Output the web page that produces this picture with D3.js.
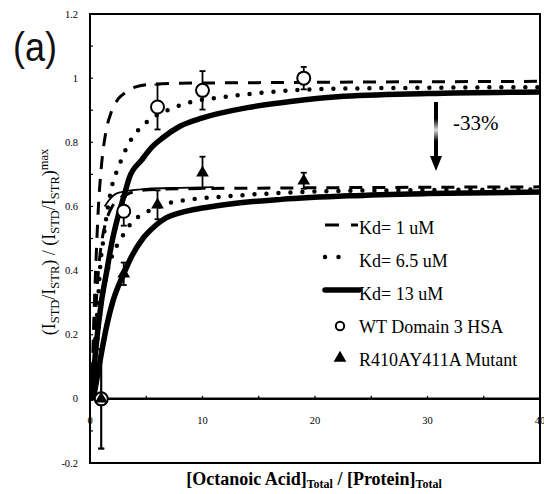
<!DOCTYPE html>
<meta charset="utf-8">
<script src="https://d3js.org/d3.v7.min.js"></script>
<style>
  body { margin: 0; background: #fff; }
  text { font-family: "Liberation Serif", "DejaVu Serif", serif; fill: #000; }
</style>
<div id="chart"></div>
<script>

// tick values
var xTicks = [0, 10, 20, 30, 40];
var xMinor = [5, 10, 15, 20, 25, 30, 35];
var yTicks = [-0.2, 0, 0.2, 0.4, 0.6, 0.8, 1, 1.2];
var yMinor = [-0.1, 0.1, 0.3, 0.5, 0.7, 0.9, 1.1];

// fitted curves, [ratio, signal]
var wtKd1 = [[0.15,0],[0.3,0.2],[0.5,0.4],[0.75,0.6],[1.0,0.72],[1.4,0.83],[1.9,0.895],[2.5,0.935],[3.2,0.956],[4,0.972],[5.2,0.98],[8,0.984],[15,0.986],[25,0.988],[40,0.99]];
var wtKd65 = [[0.15,0],[0.4,0.15],[0.7,0.3],[0.9,0.41],[1.2,0.5],[1.6,0.6],[2.0,0.67],[2.5,0.72],[3.3,0.786],[4.4,0.843],[5.3,0.87],[7.3,0.906],[9.3,0.928],[11.6,0.94],[14.8,0.953],[18,0.962],[22,0.967],[30,0.97],[40,0.972]];
var wtKd13 = [[0.15,0],[0.5,0.15],[1.0,0.3],[1.5,0.4],[1.9,0.48],[2.5,0.57],[3.0,0.63],[3.5,0.69],[4.6,0.745],[5.5,0.785],[6.5,0.815],[8,0.85],[10,0.876],[14,0.908],[18,0.928],[22,0.942],[30,0.952],[40,0.957]];
var mutKd1 = [[0.15,0],[0.3,0.13],[0.5,0.27],[0.75,0.4],[1.0,0.48],[1.4,0.55],[1.9,0.595],[2.5,0.622],[3.2,0.636],[4,0.647],[5.2,0.652],[8,0.655],[15,0.657],[25,0.659],[40,0.661]];
var mutKd65 = [[0.15,0],[0.4,0.1],[0.7,0.2],[1.0,0.29],[1.5,0.39],[2,0.45],[2.6,0.49],[3.1,0.52],[3.8,0.553],[4.9,0.58],[6.2,0.6],[7,0.61],[9.3,0.623],[11.6,0.63],[14.8,0.638],[18,0.644],[22,0.648],[30,0.651],[40,0.653]];
var mutKd13 = [[0.3,0],[0.7,0.08],[1,0.14],[1.5,0.23],[2,0.3],[2.5,0.35],[3,0.39],[3.5,0.43],[4.7,0.5],[5.5,0.53],[6.8,0.565],[8,0.58],[10,0.595],[13,0.61],[17,0.622],[23,0.633],[30,0.64],[40,0.645]];
var thinFit = [[1.3,0.6],[1.7,0.62],[2.1,0.635],[2.8,0.645],[3.6,0.65],[5,0.655],[8,0.658],[11,0.66]];

// measured points
var ratio = [1, 3, 6, 10, 19];
var wtVal = [0, 0.585, 0.91, 0.962, 1.0];
var wtErr = [0.155, 0.045, 0.07, 0.06, 0.035];
var mutVal = [0, 0.39, 0.605, 0.705, 0.68];
var mutErr = [0.155, 0.035, 0.045, 0.05, 0.025];

var W = 544, H = 494;
var svg = d3.select("#chart").append("svg")
    .attr("width", W)
    .attr("height", H);

var x = d3.scaleLinear().domain([0, 40]).range([90, 540]);
var y = d3.scaleLinear().domain([-0.2, 1.2]).range([463, 14]);

svg.append("defs").append("clipPath").attr("id", "plot")
  .append("rect")
    .attr("x", 90).attr("y", 14)
    .attr("width", 450).attr("height", 449);

// frame
svg.append("rect")
    .attr("x", 90).attr("y", 14)
    .attr("width", 450).attr("height", 449)
    .attr("fill", "none")
    .attr("stroke", "#000")
    .attr("stroke-width", 2);

// y ticks on the left edge
svg.selectAll(".ytk").data(yTicks.concat(yMinor)).enter().append("line")
    .attr("x1", 90).attr("x2", 93)
    .attr("y1", function(d) { return y(d); })
    .attr("y2", function(d) { return y(d); })
    .attr("stroke", "#000").attr("stroke-width", 1.2);

svg.selectAll(".ylab").data(yTicks).enter().append("text")
    .attr("x", 78)
    .attr("y", function(d) { return y(d) + 3.5; })
    .attr("text-anchor", "end")
    .style("font-size", "10.5px")
    .text(function(d) { return d; });

// zero line acts as the x axis
svg.append("line")
    .attr("x1", 90).attr("x2", 540)
    .attr("y1", y(0)).attr("y2", y(0))
    .attr("stroke", "#000").attr("stroke-width", 2.5);

svg.selectAll(".xtk").data(xMinor).enter().append("line")
    .attr("x1", function(d) { return x(d); })
    .attr("x2", function(d) { return x(d); })
    .attr("y1", y(0) - 3).attr("y2", y(0))
    .attr("stroke", "#000").attr("stroke-width", 1.2);

svg.selectAll(".xlab").data(xTicks).enter().append("text")
    .attr("x", function(d) { return x(d); })
    .attr("y", y(0) + 25)
    .attr("text-anchor", "middle")
    .style("font-size", "10.5px")
    .text(function(d) { return d; });

// curves
var line = d3.line()
    .x(function(d) { return x(d[0]); })
    .y(function(d) { return y(d[1]); })
    .curve(d3.curveMonotoneX);

var curves = svg.append("g").attr("clip-path", "url(#plot)");

function drawCurve(pts, kind) {
  var p = curves.append("path")
      .attr("d", line(pts))
      .attr("fill", "none")
      .attr("stroke", "#000");
  if (kind == "dash") p.attr("stroke-width", 3).attr("stroke-dasharray", "13,10");
  if (kind == "dot") p.attr("stroke-width", 4.5).attr("stroke-linecap", "round").attr("stroke-dasharray", "0,12");
  if (kind == "solid") p.attr("stroke-width", 5.5);
  if (kind == "thin") p.attr("stroke-width", 1.8);
}

drawCurve(wtKd13, "solid");
drawCurve(mutKd13, "solid");
drawCurve(wtKd65, "dot");
drawCurve(mutKd65, "dot");
drawCurve(wtKd1, "dash");
drawCurve(mutKd1, "dash");
drawCurve(thinFit, "thin");

// error bars
function errBars(vals, errs) {
  var g = svg.append("g").attr("stroke", "#000").attr("stroke-width", 1.8);
  ratio.forEach(function(r, i) {
    var cx = x(r);
    g.append("line").attr("x1", cx).attr("x2", cx)
      .attr("y1", y(vals[i] - errs[i])).attr("y2", y(vals[i] + errs[i]));
    [vals[i] - errs[i], vals[i] + errs[i]].forEach(function(v) {
      g.append("line").attr("x1", cx - 3).attr("x2", cx + 3)
        .attr("y1", y(v)).attr("y2", y(v));
    });
  });
}
errBars(wtVal, wtErr);
errBars(mutVal, mutErr);

// WT open circles
svg.selectAll(".wt").data(ratio).enter().append("circle")
    .attr("cx", function(d) { return x(d); })
    .attr("cy", function(d, i) { return y(wtVal[i]); })
    .attr("r", 6.5)
    .attr("fill", "#fff")
    .attr("stroke", "#000")
    .attr("stroke-width", 2);

// mutant triangles
var tri = d3.symbol().type(d3.symbolTriangle).size(70);
svg.selectAll(".mut").data(ratio).enter().append("path")
    .attr("d", tri)
    .attr("transform", function(d, i) { return "translate(" + x(d) + "," + y(mutVal[i]) + ")"; })
    .attr("fill", "#000");

// -33% arrow
var ax = 436;
svg.append("defs").append("linearGradient")
    .attr("id", "fade").attr("x1", 0).attr("y1", 0).attr("x2", 0).attr("y2", 1)
  .selectAll("stop").data([["0%", "#000"], ["30%", "#000"], ["50%", "#ddd"], ["70%", "#000"], ["100%", "#000"]]).enter().append("stop")
    .attr("offset", function(d) { return d[0]; })
    .attr("stop-color", function(d) { return d[1]; });
svg.append("rect").attr("x", ax - 2).attr("y", 102).attr("width", 4).attr("height", 56)
    .attr("fill", "url(#fade)");
svg.append("path")
    .attr("d", "M" + (ax - 6) + ",156 L" + (ax + 6) + ",156 L" + ax + ",171 Z")
    .attr("fill", "#000");
svg.append("text")
    .attr("x", 453).attr("y", 130)
    .style("font-family", "'Liberation Serif', serif")
    .style("font-size", "21px")
    .text("-33%");

// legend
var legY = [234, 267, 300, 333, 366];
var legText = ["Kd= 1 uM", "Kd= 6.5 uM", "Kd= 13 uM", "WT Domain 3 HSA", "R410AY411A Mutant"];
var leg = svg.append("g");
leg.append("line").attr("x1", 325).attr("x2", 358).attr("y1", legY[0] - 9).attr("y2", legY[0] - 9)
    .attr("stroke", "#000").attr("stroke-width", 3).attr("stroke-dasharray", "14,12");
leg.append("line").attr("x1", 325).attr("x2", 352).attr("y1", legY[1] - 10).attr("y2", legY[1] - 10)
    .attr("stroke", "#000").attr("stroke-width", 4.5).attr("stroke-linecap", "round").attr("stroke-dasharray", "0,13.5");
leg.append("line").attr("x1", 325).attr("x2", 359).attr("y1", legY[2] - 10).attr("y2", legY[2] - 10)
    .attr("stroke", "#000").attr("stroke-width", 5.5).attr("stroke-linecap", "round");
leg.append("circle").attr("cx", 340).attr("cy", legY[3] - 7).attr("r", 4.2)
    .attr("fill", "#fff").attr("stroke", "#000").attr("stroke-width", 2);
leg.append("path").attr("d", tri).attr("transform", "translate(340," + (legY[4] - 8) + ")").attr("fill", "#000");
leg.selectAll("text").data(legText).enter().append("text")
    .attr("x", 359)
    .attr("y", function(d, i) { return legY[i]; })
    .style("font-size", "18px")
    .text(function(d) { return d; });

// panel letter
svg.append("text")
    .attr("transform", "translate(13,61) scale(0.9,1)")
    .style("font-family", "'Liberation Sans', Arial, sans-serif")
    .style("font-size", "40px")
    .style("fill", "#111")
    .text("(a)");

// axis titles
var xt = svg.append("text")
    .attr("x", 314).attr("y", 485)
    .attr("text-anchor", "middle")
    .style("font-size", "18px")
    .style("font-weight", "bold");
xt.append("tspan").text("[Octanoic Acid]");
xt.append("tspan").attr("dy", 3).style("font-size", "12px").text("Total");
xt.append("tspan").attr("dy", -3).text(" / [Protein]");
xt.append("tspan").attr("dy", 3).style("font-size", "12px").text("Total");

var yt = svg.append("text")
    .attr("transform", "translate(55,242) rotate(-90)")
    .attr("text-anchor", "middle")
    .style("font-size", "18px");
yt.append("tspan").text("(I");
yt.append("tspan").attr("dy", 4).style("font-size", "12.5px").text("STD");
yt.append("tspan").attr("dy", -4).text("/I");
yt.append("tspan").attr("dy", 4).style("font-size", "12.5px").text("STR");
yt.append("tspan").attr("dy", -4).text(") / (I");
yt.append("tspan").attr("dy", 4).style("font-size", "12.5px").text("STD");
yt.append("tspan").attr("dy", -4).text("/I");
yt.append("tspan").attr("dy", 4).style("font-size", "12.5px").text("STR");
yt.append("tspan").attr("dy", -4).text(")");
yt.append("tspan").attr("dy", -7).style("font-size", "12.5px").text("max");

</script>
